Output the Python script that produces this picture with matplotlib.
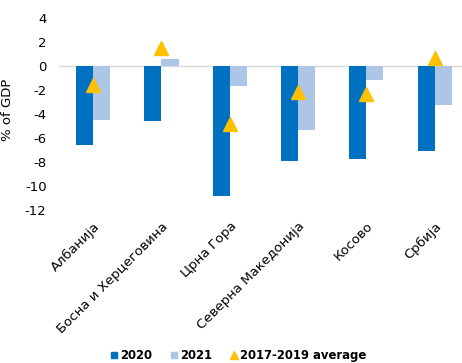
import matplotlib
matplotlib.use("Agg")
import matplotlib.pyplot as plt
import numpy as np
from matplotlib.lines import Line2D

categories = ["Албанија", "Босна и Херцеговина", "Црна Гора",
              "Северна Македонија", "Косово", "Србија"]
val_2020 = [-6.6, -4.55, -10.8, -7.9, -7.75, -7.1]
val_2021 = [-4.5, 0.6, -1.7, -5.3, -1.2, -3.25]
avg_2017_2019 = [-1.6, 1.5, -4.85, -2.2, -2.35, 0.7]
y_ticks = [4, 2, 0, -2, -4, -6, -8, -10, -12]

c2020 = "#0070C0"
c2021 = "#ADC6E6"
cavg = "#FFC000"

plt.rcParams["font.family"] = ["DejaVu Sans"]

fig = plt.figure(figsize=(4.62, 3.63), dpi=100)
ax = fig.add_axes([59 / 462, 1 - 210 / 363, (462 - 59) / 462, (210 - 18) / 363])

x = np.arange(len(categories))
w = 0.25
ax.bar(x - w / 2, val_2020, width=w, color=c2020, zorder=2)
ax.bar(x + w / 2, val_2021, width=w, color=c2021, zorder=2)
ax.plot(x, avg_2017_2019, linestyle="none", marker="^", markersize=10,
        color=cavg, zorder=3)

ax.axhline(0, color="#D9D9D9", linewidth=1, zorder=1)
ax.set_xlim(-0.5, 5.4)
ax.set_ylim(-12, 4)
ax.set_yticks(y_ticks)
ax.set_yticklabels([str(t) for t in y_ticks], fontsize=9.5, fontweight="medium")
for s in ax.spines.values():
    s.set_visible(False)
ax.tick_params(axis="both", length=0)
ax.tick_params(axis="y", pad=9)
ax.set_xticks(x)
ax.set_xticklabels(categories, rotation=45, ha="right", va="top",
                   rotation_mode="anchor", fontsize=9.5, fontweight="medium")
ax.tick_params(axis="x", pad=7)
ax.set_ylabel("% of GDP", fontsize=9.5, fontweight="medium")
ax.yaxis.set_label_coords(-0.112, 0.52)

handles = [
    Line2D([], [], linestyle="none", marker="s", markersize=5, color=c2020),
    Line2D([], [], linestyle="none", marker="s", markersize=5, color=c2021),
    Line2D([], [], linestyle="none", marker="^", markersize=6, color=cavg),
]
fig.legend(handles, ["2020", "2021", "2017-2019 average"], loc="center",
           bbox_to_anchor=(0.513, 0.02), ncol=3, frameon=False,
           prop={"weight": "semibold", "size": 8.4}, handletextpad=0.0,
           columnspacing=1.4, handlelength=1)

fig.savefig("out.png", dpi=100)
